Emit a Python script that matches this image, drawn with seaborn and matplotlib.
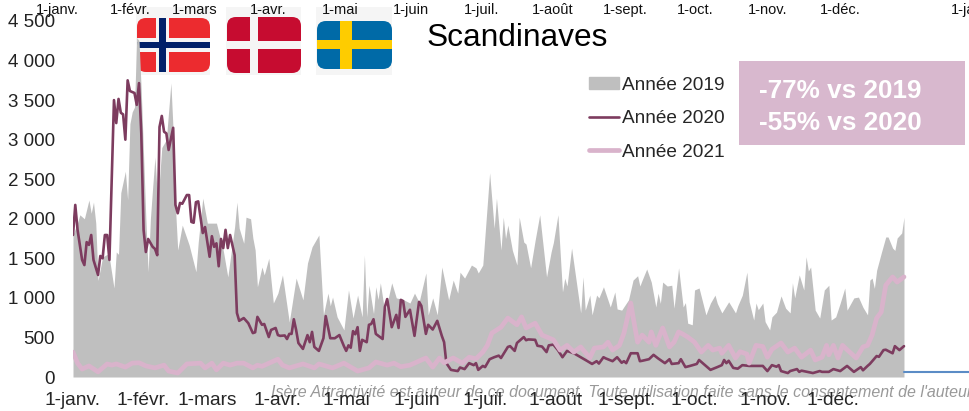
import matplotlib
matplotlib.use("Agg")
import matplotlib.pyplot as plt
from matplotlib.lines import Line2D
from matplotlib.patches import FancyBboxPatch, Patch, Rectangle
import seaborn as sns

# values, x = days since 1 Jan
days_2019 = [0, 2, 3, 5, 7, 8, 9, 10, 11, 13, 15, 16, 18, 19, 20, 21, 23, 24, 25, 26, 27, 28, 29, 30, 31, 32, 33, 34, 35, 36, 37, 38, 39, 41, 43, 44, 45, 46, 48, 51, 54, 55, 57, 59, 63, 66, 68, 71, 72, 73, 75, 76, 78, 79, 80, 81, 83, 84, 86, 88, 90, 92, 95, 98, 101, 103, 105, 108, 110, 112, 113, 114, 116, 119, 121, 123, 125, 127, 128, 129, 130, 132, 133, 134, 135, 137, 140, 142, 145, 148, 150, 152, 155, 156, 158, 160, 162, 165, 167, 169, 170, 172, 175, 177, 178, 180, 183, 185, 186, 188, 189, 190, 191, 193, 195, 196, 198, 199, 201, 203, 205, 208, 210, 211, 213, 215, 216, 217, 219, 223, 224, 225, 227, 228, 230, 231, 233, 236, 238, 239, 241, 244, 246, 248, 249, 250, 252, 254, 256, 257, 258, 259, 261, 263, 264, 266, 268, 269, 270, 272, 273, 275, 278, 280, 282, 283, 285, 288, 291, 292, 294, 296, 297, 299, 300, 301, 303, 304, 306, 307, 309, 311, 313, 315, 316, 317, 319, 321, 322, 323, 324, 326, 328, 330, 332, 333, 335, 337, 339, 340, 343, 345, 347, 349, 350, 351, 352, 353, 355, 357, 358, 360, 361, 362, 364, 365]
vals_2019 = [1800, 1950, 2050, 2000, 2237, 2070, 2210, 1945, 1220, 1517, 1550, 1500, 1125, 1580, 1550, 2330, 2600, 2240, 3200, 3350, 3410, 4290, 4250, 3600, 2800, 2000, 1330, 2000, 2400, 2780, 2300, 2500, 2900, 3000, 3716, 3100, 2150, 1605, 1920, 1670, 1330, 1700, 2260, 1945, 1945, 1600, 1265, 1900, 2210, 1880, 1690, 2020, 2000, 1757, 1605, 1140, 1390, 1290, 1500, 935, 1060, 1290, 695, 1250, 975, 1440, 1645, 1795, 785, 1060, 900, 1010, 760, 595, 1100, 745, 1035, 760, 1540, 760, 1160, 800, 1140, 980, 1190, 810, 1190, 1000, 980, 935, 1060, 945, 1315, 785, 1000, 785, 1390, 975, 1225, 1060, 1325, 1250, 1415, 1380, 1315, 1415, 2580, 1880, 2260, 1605, 2020, 1750, 1920, 1600, 1415, 2020, 1705, 1680, 1380, 1730, 2050, 1265, 1580, 1700, 2050, 1075, 1250, 1150, 1630, 810, 1265, 845, 1035, 785, 1035, 1000, 1140, 885, 1075, 860, 845, 975, 1225, 1280, 1150, 1225, 1365, 1200, 885, 1060, 930, 1200, 1150, 1160, 870, 1380, 885, 940, 680, 660, 1100, 1125, 785, 935, 1035, 930, 810, 950, 810, 900, 1035, 1325, 950, 720, 935, 850, 935, 700, 595, 760, 820, 1025, 870, 810, 1190, 1000, 1290, 1100, 1520, 1340, 1390, 845, 745, 1100, 1160, 720, 760, 935, 1125, 845, 1000, 1010, 880, 785, 1225, 1250, 1120, 1350, 1565, 1770, 1770, 1630, 1600, 1757, 1820, 2020]

days_2020 = [0, 1, 2, 4, 5, 6, 7, 8, 9, 11, 12, 13, 14, 15, 16, 17, 18, 19, 20, 21, 22, 23, 24, 25, 27, 28, 29, 30, 31, 32, 33, 35, 36, 37, 38, 39, 40, 41, 42, 44, 45, 46, 47, 48, 50, 51, 52, 53, 54, 55, 57, 58, 60, 61, 62, 63, 64, 65, 66, 67, 68, 69, 71, 72, 73, 75, 77, 79, 80, 81, 83, 84, 86, 87, 89, 90, 91, 93, 94, 95, 96, 97, 98, 99, 101, 103, 104, 105, 106, 108, 110, 111, 113, 115, 117, 119, 120, 121, 122, 123, 124, 125, 126, 127, 129, 130, 131, 132, 133, 136, 137, 138, 140, 142, 143, 144, 145, 146, 148, 150, 152, 153, 155, 156, 158, 160, 162, 163, 164, 166, 169, 170, 172, 174, 176, 177, 178, 180, 181, 183, 185, 187, 188, 191, 192, 194, 195, 198, 199, 200, 203, 204, 206, 208, 209, 211, 213, 215, 217, 220, 223, 226, 228, 230, 231, 233, 234, 237, 239, 241, 242, 243, 245, 248, 249, 250, 253, 255, 257, 260, 262, 263, 266, 267, 269, 271, 274, 275, 277, 280, 283, 285, 286, 287, 288, 290, 292, 294, 297, 303, 305, 307, 309, 310, 311, 314, 315, 318, 319, 320, 325, 328, 329, 332, 334, 337, 340, 343, 346, 347, 349, 350, 353, 354, 356, 357, 360, 361, 363, 365]
vals_2020 = [1795, 2175, 1860, 1480, 1415, 1705, 1670, 1795, 1480, 1290, 1530, 1500, 1795, 1795, 1480, 2500, 3500, 3210, 3515, 3340, 3320, 3000, 3750, 3615, 3590, 3440, 3715, 3080, 1860, 1580, 1745, 1645, 1620, 1540, 3160, 3300, 3100, 3080, 2870, 3150, 2175, 2070, 2200, 2190, 2300, 2300, 1960, 1950, 2210, 2220, 1820, 1895, 1520, 1780, 1645, 1690, 1400, 1745, 1630, 1860, 1630, 1795, 1540, 810, 710, 745, 680, 555, 565, 760, 660, 670, 505, 595, 620, 530, 520, 525, 480, 545, 545, 730, 595, 430, 355, 530, 440, 570, 380, 330, 490, 770, 490, 490, 530, 390, 330, 400, 370, 580, 540, 630, 330, 470, 440, 660, 670, 730, 545, 480, 885, 985, 630, 785, 620, 975, 960, 760, 850, 520, 950, 900, 545, 660, 600, 710, 520, 440, 175, 90, 75, 120, 100, 175, 150, 175, 90, 140, 125, 225, 250, 270, 240, 380, 390, 330, 430, 505, 465, 475, 470, 395, 385, 315, 400, 410, 340, 250, 330, 300, 250, 200, 165, 200, 170, 250, 235, 200, 250, 180, 200, 175, 300, 300, 200, 205, 225, 280, 235, 175, 225, 165, 175, 225, 125, 140, 165, 215, 165, 90, 125, 150, 215, 175, 205, 115, 105, 150, 140, 140, 75, 150, 130, 150, 75, 50, 75, 100, 65, 80, 50, 75, 65, 65, 100, 75, 140, 65, 125, 85, 140, 165, 265, 255, 340, 345, 300, 390, 340, 390]

days_2021 = [0, 2, 4, 7, 11, 15, 17, 19, 23, 26, 29, 32, 36, 40, 42, 46, 50, 56, 58, 61, 63, 66, 69, 72, 75, 79, 81, 83, 90, 92, 95, 101, 106, 108, 114, 119, 125, 130, 133, 138, 141, 144, 148, 155, 158, 161, 163, 167, 171, 174, 177, 180, 182, 184, 188, 191, 195, 197, 199, 203, 206, 211, 214, 217, 220, 223, 227, 229, 233, 235, 237, 240, 242, 245, 246, 248, 250, 253, 254, 256, 259, 262, 264, 266, 268, 270, 273, 276, 279, 281, 284, 285, 288, 291, 293, 296, 297, 300, 303, 305, 307, 311, 314, 317, 320, 324, 326, 329, 331, 332, 334, 336, 338, 340, 344, 347, 349, 351, 353, 355, 357, 360, 362, 365]
vals_2021 = [315, 175, 100, 140, 65, 165, 150, 165, 125, 175, 180, 140, 115, 150, 75, 50, 165, 175, 115, 175, 90, 175, 150, 175, 175, 115, 150, 135, 225, 150, 115, 165, 115, 165, 115, 175, 75, 115, 190, 150, 175, 130, 150, 240, 125, 240, 180, 240, 175, 250, 230, 315, 400, 555, 630, 745, 660, 760, 620, 680, 530, 470, 340, 400, 315, 380, 240, 365, 380, 440, 340, 400, 555, 935, 760, 440, 530, 440, 570, 400, 620, 380, 440, 570, 540, 505, 440, 315, 400, 340, 365, 300, 400, 240, 320, 290, 175, 400, 385, 250, 350, 430, 315, 365, 250, 340, 215, 250, 400, 280, 400, 240, 400, 345, 240, 380, 400, 530, 745, 820, 1160, 1265, 1200, 1265]

# the stray blue stub right of the series
days_extra = [365, 394]
vals_extra = [65, 65]

month_days = [0, 31, 59, 90, 120, 151, 181, 212, 243, 273, 304, 334]
month_labels = ["1-janv.", "1-févr.", "1-mars", "1-avr.", "1-mai", "1-juin", "1-juil.", "1-août", "1-sept.", "1-oct.", "1-nov.", "1-déc."]
top_labels = month_labels + ["1-janv."]
top_px = [57, 130, 195, 268, 340, 411, 482, 553, 625, 695, 768, 840, 972]
y_ticks = [0, 500, 1000, 1500, 2000, 2500, 3000, 3500, 4000, 4500]
y_labels = ["0", "500", "1 000", "1 500", "2 000", "2 500", "3 000", "3 500", "4 000", "4 500"]

GREY = "#BFBFBF"
DARK = "#7D3C5F"
PINK = "#D9B3CB"
BOX = "#D8B8CE"

W, H = 970, 411
sns.set_style("white")
plt.rcParams["font.family"] = ["Liberation Sans", "DejaVu Sans"]

fig = plt.figure(figsize=(W / 100, H / 100), dpi=100)

# full figure overlay in pixel coordinates for flags and loose texts
bg = fig.add_axes([0, 0, 1, 1], zorder=0)
bg.set_xlim(0, W)
bg.set_ylim(H, 0)
bg.axis("off")


def draw_flag(x0, x1, y0, y1, base, crosses):
    bg.add_patch(Rectangle((x0 - 1, 7), x1 - x0 + 1, 68, color="#F5F5F5", lw=0))
    body = FancyBboxPatch((x0 + 5, y0 + 5), x1 - x0 - 10, y1 - y0 - 10,
                          boxstyle="round,pad=5,rounding_size=9", fc=base, ec="none")
    bg.add_patch(body)
    for cx0, cx1, cy0, cy1, color in crosses:
        r = Rectangle((cx0, cy0), cx1 - cx0, cy1 - cy0, color=color, lw=0)
        bg.add_patch(r)
        r.set_clip_path(body)


draw_flag(137, 210, 18, 72, "#EC2B2F", [
    (156, 169, 18, 72, "#F5F5F5"), (137, 210, 38, 52, "#F5F5F5"),
    (159, 166, 18, 72, "#012169"), (137, 210, 42, 48, "#012169")])
draw_flag(227, 301, 17, 73, "#C60C30", [
    (250, 258, 17, 73, "#F5F5F5"), (227, 301, 41, 49, "#F5F5F5")])
draw_flag(317, 392, 21, 69, "#006AA7", [
    (340, 352, 21, 69, "#FECC00"), (317, 392, 40, 49, "#FECC00")])

for px, lab in zip(top_px, top_labels):
    bg.text(px, 10, lab, fontsize=10.5, ha="center", va="center", color="#111111")
bg.text(427, 38, "Scandinaves", fontsize=22.8, ha="left", va="center", color="black")
bg.add_patch(Rectangle((739, 61), 226, 84, color=BOX, lw=0))
bg.text(759, 91, "-77% vs 2019", fontsize=18.8, fontweight="bold", color="white", va="center")
bg.text(759, 123, "-55% vs 2020", fontsize=18.8, fontweight="bold", color="white", va="center")
bg.text(271, 392, "Isère Attractivité est auteur de ce document. Toute utilisation faite sans le consentement de l'auteur",
        fontsize=11.5, style="italic", color="#999999", va="center")

# main chart
ax = fig.add_axes([73 / W, 1 - 377 / H, (W - 73) / W, (377 - 21) / H], zorder=1)
ax.patch.set_alpha(0)
ax.fill_between(days_2019, vals_2019, color=GREY, lw=0)
sns.lineplot(x=days_extra, y=vals_extra, color="#5B8CC6", lw=1.5, ax=ax)
sns.lineplot(x=days_2020, y=vals_2020, color=DARK, lw=1.9, ax=ax)
sns.lineplot(x=days_2021, y=vals_2021, color=PINK, lw=3.4, ax=ax)

ax.set_xlim(0, 394)
ax.set_ylim(0, 4500)
ax.set_xticks(month_days)
ax.set_xticklabels(month_labels, fontsize=13.8)
ax.set_yticks(y_ticks)
ax.set_yticklabels(y_labels, fontsize=13.5, color="#222222")
ax.tick_params(axis="x", length=0, pad=11)
ax.tick_params(axis="y", length=0, pad=13)
ax.set_xlabel("")
ax.set_ylabel("")
sns.despine(ax=ax, left=True, bottom=True)

handles = [Patch(color=GREY), Line2D([], [], color=DARK, lw=1.9), Line2D([], [], color=PINK, lw=3.4)]
ax.legend(handles, ["Année 2019", "Année 2020", "Année 2021"],
          loc="upper left", bbox_to_anchor=(589 / W, 1 - 77 / H), bbox_transform=fig.transFigure,
          frameon=False, fontsize=13.7, handlelength=1.6, handleheight=0.6,
          handletextpad=0.12, labelspacing=0.86, borderpad=0, borderaxespad=0)

fig.savefig("out.png", dpi=100)
